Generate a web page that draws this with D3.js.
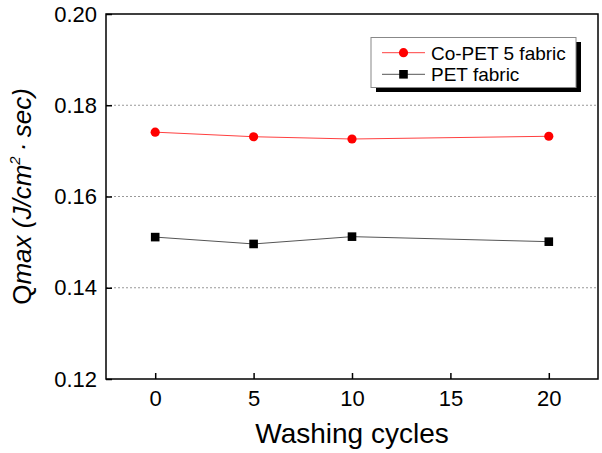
<!DOCTYPE html>
<html><head><meta charset="utf-8">
<script src="https://cdn.jsdelivr.net/npm/d3@7/dist/d3.min.js"></script>
<style>body{margin:0;background:#fff}svg{display:block;font-family:Arial,"Liberation Sans",sans-serif}</style>
</head><body><div id="chart"></div>
<script>
const cycles = [0, 5, 10, 20];
const coPet = [0.1741, 0.1731, 0.1726, 0.1732];
const pet = [0.1511, 0.1496, 0.1512, 0.1501];
const xTicks = [0, 5, 10, 15, 20];
const yTicks = [0.12, 0.14, 0.16, 0.18, 0.20];
const gridTicks = [0.14, 0.16, 0.18];
const seriesNames = ["Co-PET 5 fabric", "PET fabric"];

const W = 602, H = 453;
const m = {left: 106, right: 4, top: 14, bottom: 74};
const svg = d3.select("#chart").append("svg").attr("width", W).attr("height", H);
const x = d3.scaleLinear().domain([-2.5, 22.5]).range([m.left, W - m.right]);
const y = d3.scaleLinear().domain([0.12, 0.20]).range([H - m.bottom, m.top]);

// grid
svg.append("g").selectAll("line").data(gridTicks).join("line")
  .attr("x1", x(-2.5)).attr("x2", x(22.5))
  .attr("y1", d => y(d)).attr("y2", d => y(d))
  .attr("stroke", "#999").attr("stroke-width", 1).attr("stroke-dasharray", "2,2");

// axes
const xAxis = d3.axisBottom(x).tickValues(xTicks).tickSize(-6).tickPadding(11).tickFormat(d3.format("d"));
const yAxis = d3.axisLeft(y).tickValues(yTicks).tickSize(-6).tickPadding(9).tickFormat(d3.format(".2f"));
const gx = svg.append("g").attr("transform", `translate(0,${y(0.12)})`).call(xAxis);
const gy = svg.append("g").attr("transform", `translate(${x(-2.5)},0)`).call(yAxis);
[gx, gy].forEach(g => {
  g.select(".domain").remove();
  g.selectAll(".tick line").attr("stroke", "#000").attr("stroke-width", 1.5);
  g.selectAll(".tick text").attr("font-size", 22).attr("fill", "#000").attr("font-family", "Arial, 'Liberation Sans', sans-serif");
});
// frame
svg.append("rect").attr("x", x(-2.5)).attr("y", y(0.20))
  .attr("width", x(22.5) - x(-2.5)).attr("height", y(0.12) - y(0.20))
  .attr("fill", "none").attr("stroke", "#000").attr("stroke-width", 1.5);

// lines
const line = d3.line().x((d, i) => x(cycles[i])).y(d => y(d));
svg.append("path").datum(coPet).attr("d", line).attr("fill", "none").attr("stroke", "#ff4040").attr("stroke-width", 1);
svg.append("path").datum(pet).attr("d", line).attr("fill", "none").attr("stroke", "#555").attr("stroke-width", 1);
svg.append("g").selectAll("circle").data(coPet).join("circle")
  .attr("cx", (d, i) => x(cycles[i])).attr("cy", d => y(d)).attr("r", 4.6).attr("fill", "#ff0000");
svg.append("g").selectAll("rect").data(pet).join("rect")
  .attr("x", (d, i) => x(cycles[i]) - 4.3).attr("y", d => y(d) - 4.3)
  .attr("width", 8.6).attr("height", 8.6).attr("fill", "#000");

// legend
const lg = svg.append("g");
lg.append("rect").attr("x", 376).attr("y", 42).attr("width", 205).attr("height", 50).attr("fill", "#000");
lg.append("rect").attr("x", 371).attr("y", 37.5).attr("width", 205).attr("height", 50).attr("fill", "#fff").attr("stroke", "#888").attr("stroke-width", 1);
const rows = [52.7, 74.3];
lg.append("line").attr("x1", 382).attr("x2", 425).attr("y1", rows[0]).attr("y2", rows[0]).attr("stroke", "#ff4040");
lg.append("circle").attr("cx", 403.5).attr("cy", rows[0]).attr("r", 4.6).attr("fill", "#ff0000");
lg.append("line").attr("x1", 382).attr("x2", 425).attr("y1", rows[1]).attr("y2", rows[1]).attr("stroke", "#555");
lg.append("rect").attr("x", 403.5 - 4.3).attr("y", rows[1] - 4.3).attr("width", 8.6).attr("height", 8.6).attr("fill", "#000");
lg.selectAll("text.lt").data(seriesNames).join("text").attr("class", "lt")
  .attr("x", 431).attr("y", (d, i) => rows[i] + 7).attr("font-size", 19).attr("fill", "#000").text(d => d);

// axis titles
svg.append("text").attr("x", (x(-2.5) + x(22.5)) / 2).attr("y", 443)
  .attr("text-anchor", "middle").attr("font-size", 28).attr("fill", "#000").text("Washing cycles");
const yt = svg.append("text").attr("transform", `translate(31,${(y(0.12)+y(0.20))/2}) rotate(-90)`)
  .attr("text-anchor", "middle").attr("font-size", 26).attr("fill", "#000");
yt.append("tspan").text("Q");
yt.append("tspan").attr("font-style", "italic").text("max (J/cm");
yt.append("tspan").attr("font-style", "italic").attr("font-size", 15).attr("dy", -11).text("2");
yt.append("tspan").attr("font-style", "italic").attr("dy", 11).text("\u2009\u00B7\u2009sec)");
</script></body></html>
